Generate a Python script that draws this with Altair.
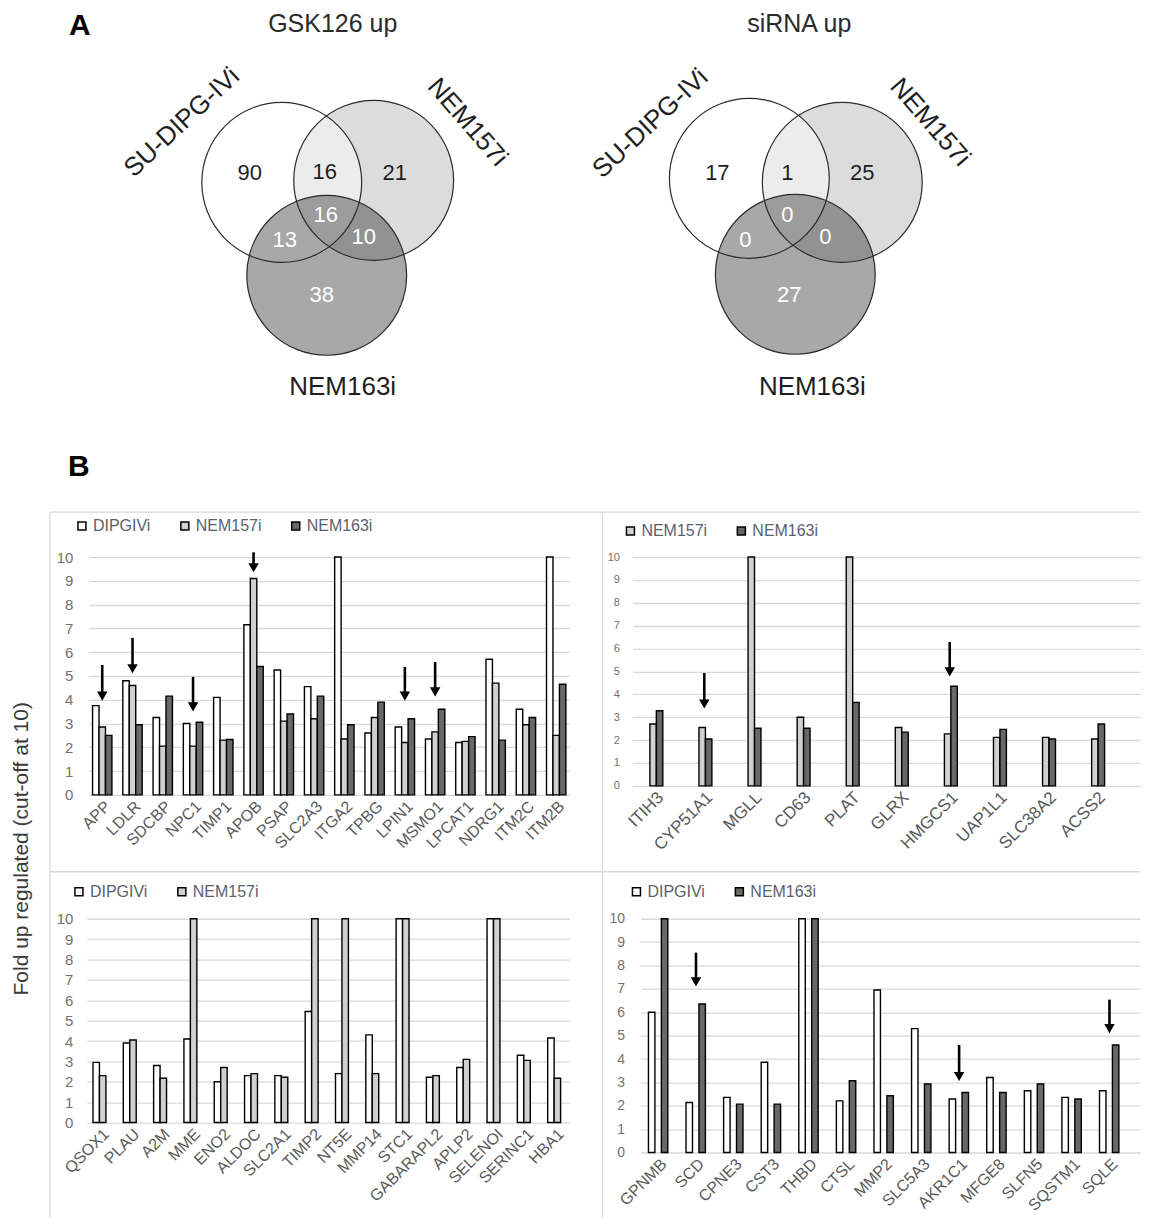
import altair as alt
import pandas as pd

FONT = "Liberation Sans"

# ---------------- Panel A: Venn diagrams ----------------
venn_titles = ["GSK126 up", "siRNA up"]
set_names = ["SU-DIPG-IVi", "NEM157i", "NEM163i"]
gsk_counts = [90, 16, 21, 16, 13, 10, 38]
sirna_counts = [17, 1, 25, 0, 0, 0, 27]
count_on_dark = [False, False, False, True, True, True, True]

# layout of the two diagrams on the panel canvas
circle_cx_gsk = [282, 374, 327]
circle_cy_gsk = [182, 180, 275]
circle_cx_sirna = [750, 843, 796]
circle_cy_sirna = [178, 182, 274]
count_x_gsk = [250, 325, 395, 326, 285, 364, 322]
count_y_gsk = [173, 172, 173, 215, 240, 237, 295]
count_x_sirna = [718, 788, 863, 788, 746, 826, 790]
count_y_sirna = [173, 173, 173, 215, 240, 237, 295]
label_x_gsk = [182, 468, 343]
label_y_gsk = [122, 122, 387]
label_x_sirna = [651, 931, 813]
label_y_sirna = [123, 122, 387]
label_angle = [317, 49, 0]
title_x = [333, 800]
title_y = [23, 23]
letters = ["A", "B"]
letter_x = [80, 79]
letter_y = [25, 467]

# ---------------- Panel B: bar charts ----------------
tl_genes = ["APP", "LDLR", "SDCBP", "NPC1", "TIMP1", "APOB", "PSAP", "SLC2A3", "ITGA2",
            "TPBG", "LPIN1", "MSMO1", "LPCAT1", "NDRG1", "ITM2C", "ITM2B"]
tl_dipg = [3.75, 4.8, 3.25, 3.0, 4.1, 7.15, 5.25, 4.55, 10, 2.6, 2.85, 2.35, 2.2, 5.7, 3.6, 10]
tl_157 = [2.85, 4.6, 2.05, 2.05, 2.3, 9.1, 3.1, 3.2, 2.35, 3.25, 2.2, 2.65, 2.25, 4.7, 2.95, 2.5]
tl_163 = [2.5, 2.95, 4.15, 3.05, 2.33, 5.4, 3.4, 4.15, 2.95, 3.9, 3.2, 3.6, 2.45, 2.3, 3.25, 4.65]
tl_arrow_genes = ["APP", "LDLR", "NPC1", "APOB", "LPIN1", "MSMO1"]
tl_arrow_top = [5.46, 6.6, 4.96, 10.2, 5.38, 5.59]
tl_arrow_head = [4.15, 5.3, 3.7, 9.55, 4.15, 4.33]

tr_genes = ["ITIH3", "CYP51A1", "MGLL", "CD63", "PLAT", "GLRX", "HMGCS1", "UAP1L1",
            "SLC38A2", "ACSS2"]
tr_157 = [2.7, 2.55, 10, 3.0, 10, 2.55, 2.27, 2.12, 2.12, 2.05]
tr_163 = [3.28, 2.05, 2.52, 2.52, 3.65, 2.35, 4.35, 2.47, 2.05, 2.7]
tr_arrow_genes = ["CYP51A1", "HMGCS1"]
tr_arrow_top = [4.93, 6.29]
tr_arrow_head = [3.58, 4.98]

bl_genes = ["QSOX1", "PLAU", "A2M", "MME", "ENO2", "ALDOC", "SLC2A1", "TIMP2", "NT5E",
            "MMP14", "STC1", "GABARAPL2", "APLP2", "SELENOI", "SERINC1", "HBA1"]
bl_dipg = [2.95, 3.9, 2.8, 4.1, 2.0, 2.3, 2.3, 5.45, 2.4, 4.3, 10, 2.22, 2.7, 10, 3.3, 4.15]
bl_157 = [2.3, 4.05, 2.17, 10, 2.7, 2.4, 2.22, 10, 10, 2.4, 10, 2.3, 3.1, 10, 3.05, 2.17]

br_genes = ["GPNMB", "SCD", "CPNE3", "CST3", "THBD", "CTSL", "MMP2", "SLC5A3", "AKR1C1",
            "MFGE8", "SLFN5", "SQSTM1", "SQLE"]
br_dipg = [6.0, 2.14, 2.36, 3.86, 10, 2.21, 6.95, 5.3, 2.29, 3.21, 2.64, 2.36, 2.64]
br_163 = [10, 6.35, 2.07, 2.07, 10, 3.07, 2.43, 2.93, 2.57, 2.57, 2.93, 2.29, 4.6]
br_arrow_genes = ["SCD", "AKR1C1", "SQLE"]
br_arrow_top = [8.55, 4.6, 6.54]
br_arrow_head = [7.3, 3.25, 5.3]

y_title = "Fold up regulated (cut-off  at 10)"

COL = {"DIPGIVi": "#ffffff", "NEM157i": "#d0d0d0", "NEM163i": "#6b6765"}

# ---------------- build Venn panel ----------------
circ_rows = []
for cxs, cys in [(circle_cx_gsk, circle_cy_gsk), (circle_cx_sirna, circle_cy_sirna)]:
    for name, cx, cy in zip(set_names, cxs, cys):
        circ_rows.append({"set": name, "x": cx, "y": cy})
circles = pd.DataFrame(circ_rows)

cnt_rows = []
for cnts, xs, ys in [(gsk_counts, count_x_gsk, count_y_gsk), (sirna_counts, count_x_sirna, count_y_sirna)]:
    for c, x, y, d in zip(cnts, xs, ys, count_on_dark):
        cnt_rows.append({"count": str(c), "x": x, "y": y, "dark": d})
counts = pd.DataFrame(cnt_rows)

lab_rows = []
for xs, ys in [(label_x_gsk, label_y_gsk), (label_x_sirna, label_y_sirna)]:
    for n, x, y, a in zip(set_names, xs, ys, label_angle):
        lab_rows.append({"label": n, "x": x, "y": y, "angle": a})
labels = pd.DataFrame(lab_rows)

titles = pd.DataFrame({"title": venn_titles, "x": title_x, "y": title_y})
letters_df = pd.DataFrame({"t": letters, "x": letter_x, "y": letter_y})

xs_v = alt.Scale(domain=[8, 1141], nice=False, zero=False)
ys_v = alt.Scale(domain=[508, 8], nice=False, zero=False)
X = alt.X("x:Q", scale=xs_v, axis=None)
Y = alt.Y("y:Q", scale=ys_v, axis=None)
DIAM = 160
AREA = DIAM * DIAM  # vega circle symbol: radius = sqrt(size)/2

def circ_layer(name, color, opacity):
    return (alt.Chart(circles).transform_filter(alt.datum.set == name)
            .mark_point(shape="circle", filled=True, color=color, opacity=opacity,
                        size=AREA, strokeWidth=0)
            .encode(x=X, y=Y))

venn = alt.layer(
    circ_layer("NEM157i", "#dcdcdc", 1.0),
    circ_layer("SU-DIPG-IVi", "#ffffff", 0.45),
    circ_layer("NEM163i", "#1a1a1a", 0.38),
    alt.Chart(circles).mark_point(shape="circle", filled=False, color="#2b2b2b",
                                  opacity=1, size=AREA, strokeWidth=1.2).encode(x=X, y=Y),
    alt.Chart(counts).mark_text(fontSize=22, font=FONT).encode(
        x=X, y=Y, text="count:N",
        color=alt.condition("datum.dark", alt.value("#ffffff"), alt.value("#1e1e1e"))),
    alt.Chart(labels).mark_text(fontSize=26, font=FONT, color="#1e1e1e").encode(
        x=X, y=Y, text="label:N", angle=alt.Angle("angle:Q", scale=None)),
    alt.Chart(titles).mark_text(fontSize=25, font=FONT, color="#2a2a2a").encode(
        x=X, y=Y, text="title:N"),
    alt.Chart(letters_df).mark_text(fontSize=30, font=FONT, fontWeight="bold", color="black").encode(
        x=X, y=Y, text="t:N"),
).properties(width=1133, height=500)


# ---------------- build bar panels ----------------
def bar_panel(genes, series, values, w, h, pi, po, align, arrow_genes, arrow_top, arrow_head,
              tick_fs, lab_fs, leg_x, leg_y, box, tick_pad):
    rows = []
    for s, vals in zip(series, values):
        for g, v in zip(genes, vals):
            rows.append({"gene": g, "series": s, "value": v})
    df = pd.DataFrame(rows)
    arr = pd.DataFrame({"gene": arrow_genes, "top": arrow_top, "head": arrow_head})
    xenc = alt.X("gene:N", sort=genes,
                 scale=alt.Scale(paddingInner=pi, paddingOuter=po, align=align),
                 axis=alt.Axis(title=None, labelAngle=315, labelFontSize=lab_fs,
                               labelColor="#595959", ticks=False, domain=False,
                               labelPadding=3, labelOverlap=False, labelFont=FONT))
    yaxis = alt.Axis(title=None, values=list(range(11)), grid=True, gridColor="#d9d9d9",
                     gridWidth=1.3, domain=False, ticks=False, labelFontSize=tick_fs,
                     labelColor="#7a6e6a", labelPadding=tick_pad, labelFont=FONT)
    yscale = alt.Scale(domain=[0, 10], nice=False, zero=True)
    bars = alt.Chart(df).mark_bar(stroke="black", strokeWidth=1.4).encode(
        x=xenc,
        xOffset=alt.XOffset("series:N", sort=series,
                            scale=alt.Scale(paddingInner=0, paddingOuter=0)),
        y=alt.Y("value:Q", scale=yscale, axis=yaxis),
        fill=alt.Fill("series:N", sort=series,
                      scale=alt.Scale(domain=series, range=[COL[s] for s in series]),
                      legend=alt.Legend(title=None, orient="none", legendX=leg_x, legendY=leg_y,
                                        direction="horizontal", symbolType="square",
                                        symbolSize=64, symbolStrokeColor="black",
                                        symbolStrokeWidth=1.5, labelFontSize=16,
                                        labelColor="#5a5f6e", labelFont=FONT,
                                        columnPadding=26, labelOffset=3, padding=0)),
    )
    shaft = alt.Chart(arr).mark_rule(color="black", strokeWidth=2.6).encode(
        x=xenc, y=alt.Y("top:Q", scale=yscale, axis=yaxis), y2="head:Q")
    head = alt.Chart(arr).mark_point(shape="triangle-down", filled=True, color="black",
                                     opacity=1, size=110).encode(
        x=xenc, y=alt.Y("head:Q", scale=yscale, axis=yaxis))
    x0, x1, y0, y1 = box
    one = pd.DataFrame({"d": [0]})
    top_line = alt.Chart(one).mark_rule(color="#d9d9d9", strokeWidth=1.3).encode(
        x=alt.value(x0), x2=alt.value(x1), y=alt.value(y0))
    left_line = alt.Chart(one).mark_rule(color="#d9d9d9", strokeWidth=1.3).encode(
        x=alt.value(x0), y=alt.value(y0), y2=alt.value(y1))
    return alt.layer(top_line, left_line, bars, shaft, head).properties(width=w, height=h)


tl = bar_panel(tl_genes, ["DIPGIVi", "NEM157i", "NEM163i"], [tl_dipg, tl_157, tl_163],
               481, 238, 0.36, 0.12, 0.5, tl_arrow_genes, tl_arrow_top, tl_arrow_head,
               15, 16, -15, -39, (-39, 514, -45, 315), 16)
tr = bar_panel(tr_genes, ["NEM157i", "NEM163i"], [tr_157, tr_163],
               508, 229, 0.52, 0.43, 0.26, tr_arrow_genes, tr_arrow_top, tr_arrow_head,
               11, 17, -10, -34, (-30, 508, -45, 315), 13)
bl = bar_panel(bl_genes, ["DIPGIVi", "NEM157i"], [bl_dipg, bl_157],
               483, 204, 0.48, 0.2, 0.5, [], [], [],
               15, 16, -16, -35, (-37, 516, -47, 299), 14)
br = bar_panel(br_genes, ["DIPGIVi", "NEM163i"], [br_dipg, br_163],
               500, 234, 0.47, 0.38, 0.28, br_arrow_genes, br_arrow_top, br_arrow_head,
               14, 16, -12, -35, (-38, 500, -47, 299), 16)

spacer1 = alt.Chart(pd.DataFrame({"t": [y_title]})).mark_text(
    angle=270, fontSize=21, font=FONT, color="#3a3a3a").encode(
    x=alt.value(14), y=alt.value(292), text="t:N").properties(width=18, height=238)
spacer2 = alt.Chart(pd.DataFrame({"t": [""]})).mark_text(fontSize=1).encode(
    x=alt.value(4), y=alt.value(4), text="t:N").properties(width=8, height=204)


def indep(c):
    return c.resolve_scale(fill="independent", x="independent", y="independent").resolve_legend(
        fill="independent")


row1 = indep(alt.hconcat(spacer1, tl, tr, spacing=63, bounds="flush"))
row2 = indep(alt.hconcat(spacer2, bl, br, spacing=71, bounds="flush"))
# nested rows count as zero height in a flush layout: the gap spans row 1 (238) + 124
bars_part = indep(alt.vconcat(row1, row2, spacing=362, bounds="flush"))
chart = indep(alt.vconcat(venn, bars_part, spacing=49, bounds="flush", padding=0))
chart = chart.configure(font=FONT, background="white").configure_view(
    stroke="transparent", strokeWidth=0)

chart.save("out.html", embed_options={"renderer": "svg", "actions": False})
